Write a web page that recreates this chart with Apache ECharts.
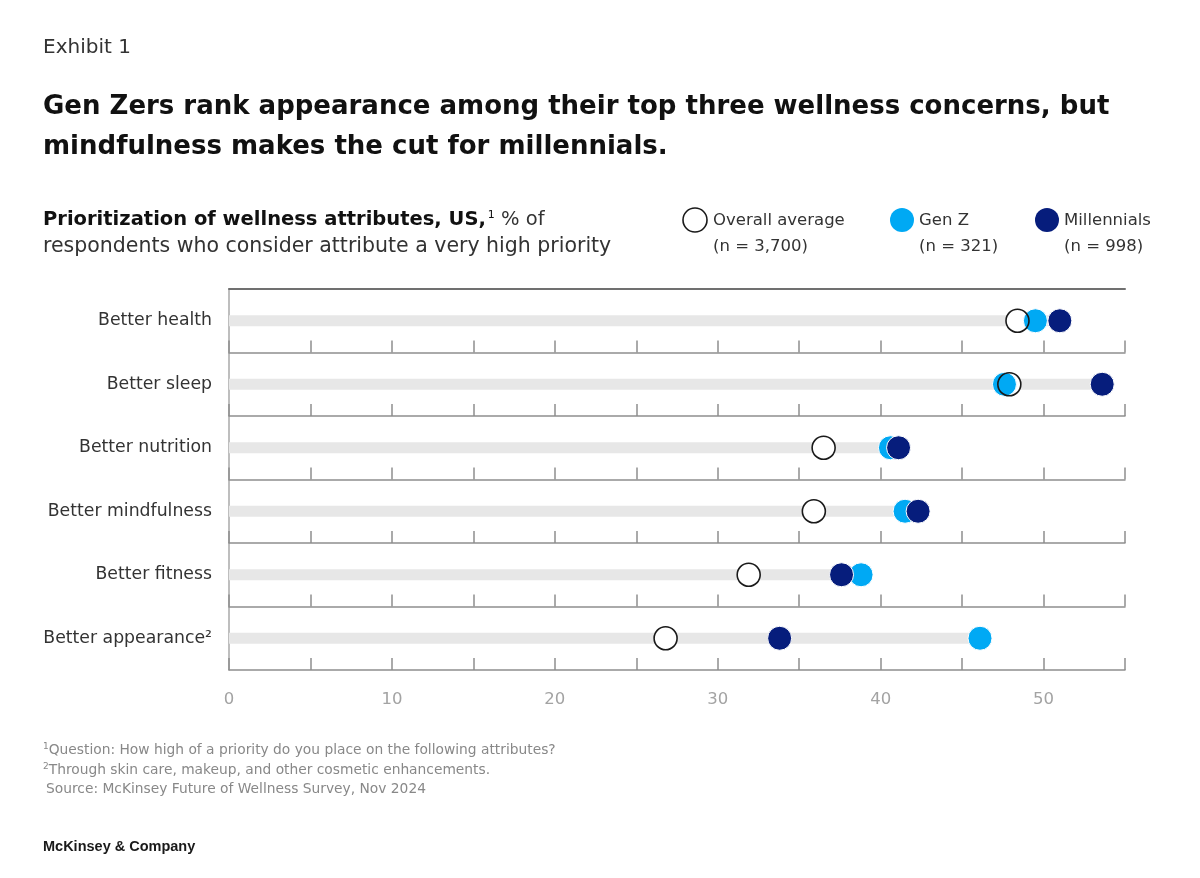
<!DOCTYPE html>
<html>
<head>
<meta charset="utf-8">
<script src="https://cdn.jsdelivr.net/npm/echarts@6/dist/echarts.min.js"></script>
<style>
html,body{margin:0;padding:0;background:#fff;}
#chart{width:1200px;height:878px;}
</style>
</head>
<body>
<div id="chart"></div>
<script>
// ---- data ----
var categories = ['Better health', 'Better sleep', 'Better nutrition', 'Better mindfulness', 'Better fitness', 'Better appearance²'];
var overallAverage = [48.4, 47.9, 36.5, 35.9, 31.9, 26.8];
var genZ = [49.5, 47.6, 40.6, 41.5, 38.8, 46.1];
var millennials = [51.0, 53.6, 41.1, 42.3, 37.6, 33.8];
var xTicks = [0, 10, 20, 30, 40, 50];

var FONT = '"DejaVu Sans", sans-serif';
var FONT2 = '"Liberation Sans", Arial, sans-serif';
var C_GENZ = '#00a9f4';
var C_MIL = '#061d7c';
var chart = echarts.init(document.getElementById('chart'));

var left = 229, right = 75, top0 = 289, rowH = 63.5;
var grids = [], xAxes = [], yAxes = [], series = [];
var sym = 24;

for (var i = 0; i < categories.length; i++) {
  var last = i === categories.length - 1;
  grids.push({left: left, right: right, top: top0 + i * rowH, height: rowH});
  xAxes.push({
    type: 'value', gridIndex: i, min: 0, max: 55, interval: 5,
    axisLine: {show: true, lineStyle: {color: '#8f8f8f', width: 1.5}},
    axisTick: {show: true, inside: true, length: 12, lineStyle: {color: '#8f8f8f', width: 1.5}},
    splitLine: {show: false},
    axisLabel: {
      show: last, margin: 21, color: '#a3a3a3', fontSize: 16.5, fontFamily: FONT,
      formatter: function (v) { return xTicks.indexOf(v) >= 0 ? String(v) : ''; }
    }
  });
  yAxes.push({
    type: 'category', gridIndex: i, data: [categories[i]],
    axisLine: {show: true, lineStyle: {color: '#a8a8a8', width: 1.5}},
    axisTick: {show: false},
    axisLabel: {margin: 17, color: '#333', fontSize: 17.3, fontFamily: FONT}
  });
  var cat = categories[i];
  var mx = Math.max(overallAverage[i], genZ[i], millennials[i]);
  series.push({
    type: 'bar', xAxisIndex: i, yAxisIndex: i, barWidth: 11, silent: true,
    itemStyle: {color: '#e7e7e7'}, data: [[mx, cat]], z: 1
  });
  series.push({
    name: 'Overall average', type: 'scatter', xAxisIndex: i, yAxisIndex: i,
    symbol: 'circle', symbolSize: sym, z: 2,
    itemStyle: {color: '#ffffff', borderWidth: 0, opacity: 1}, data: [[overallAverage[i], cat]]
  });
  series.push({
    name: 'Gen Z', type: 'scatter', xAxisIndex: i, yAxisIndex: i,
    symbol: 'circle', symbolSize: sym, z: 3,
    itemStyle: {color: C_GENZ, borderColor: '#fff', borderWidth: 1, opacity: 1}, data: [[genZ[i], cat]]
  });
  series.push({
    name: 'Millennials', type: 'scatter', xAxisIndex: i, yAxisIndex: i,
    symbol: 'circle', symbolSize: sym, z: 4,
    itemStyle: {color: C_MIL, borderColor: '#fff', borderWidth: 1, opacity: 1}, data: [[millennials[i], cat]]
  });
  series.push({
    name: 'Overall average', type: 'scatter', xAxisIndex: i, yAxisIndex: i,
    symbol: 'circle', symbolSize: sym - 1, z: 5,
    itemStyle: {color: 'rgba(0,0,0,0)', borderColor: '#1a1a1a', borderWidth: 1.6, opacity: 1}, data: [[overallAverage[i], cat]]
  });
}
// top border line of plot
xAxes.push({
  type: 'value', gridIndex: 0, position: 'top', min: 0, max: 55,
  axisLine: {show: true, lineStyle: {color: '#707070', width: 2}},
  axisTick: {show: false}, axisLabel: {show: false}, splitLine: {show: false}
});

var txt = function (x, y, text, size, color, weight, font) {
  return {type: 'text', style: {text: text, x: x, y: y, fill: color, fontSize: size, fontFamily: font || FONT, fontWeight: weight || 'normal', textVerticalAlign: 'middle'}};
};

var graphic = [
  txt(43, 48, 'Exhibit 1', 20, '#333'),
  txt(43, 107, 'Gen Zers rank appearance among their top three wellness concerns, but', 26, '#111', 'bold'),
  txt(43, 147, 'mindfulness makes the cut for millennials.', 26, '#111', 'bold'),
  {type: 'text', style: {
    x: 43, y: 220, textVerticalAlign: 'middle', fontFamily: FONT,
    text: '{b|Prioritization of wellness attributes, US,}{s|1}{n| % of}',
    rich: {
      b: {fontSize: 19.5, fontWeight: 'bold', fill: '#111', fontFamily: FONT},
      s: {fontSize: 11, fill: '#111', fontFamily: FONT, padding: [0, 0, 10, 2]},
      n: {fontSize: 19.5, fill: '#333', fontFamily: FONT}
    }
  }},
  txt(43, 247, 'respondents who consider attribute a very high priority', 20.5, '#333'),
  // legend
  {type: 'circle', shape: {cx: 695, cy: 220, r: 12}, style: {fill: '#fff', stroke: '#1a1a1a', lineWidth: 1.6}},
  txt(713, 221, 'Overall average', 16.5, '#333'),
  txt(713, 247, '(n = 3,700)', 16.5, '#333'),
  {type: 'circle', shape: {cx: 902, cy: 220, r: 12}, style: {fill: C_GENZ}},
  txt(919, 221, 'Gen Z', 16.5, '#333'),
  txt(919, 247, '(n = 321)', 16.5, '#333'),
  {type: 'circle', shape: {cx: 1047, cy: 220, r: 12}, style: {fill: C_MIL}},
  txt(1064, 221, 'Millennials', 16.5, '#333'),
  txt(1064, 247, '(n = 998)', 16.5, '#333'),
  // footnotes
  {type: 'text', style: {
    x: 43, y: 750, textVerticalAlign: 'middle', fontFamily: FONT,
    text: '{s|1}{n|Question: How high of a priority do you place on the following attributes?}',
    rich: {s: {fontSize: 9, fill: '#888', fontFamily: FONT, padding: [0, 0, 7, 0]}, n: {fontSize: 13.8, fill: '#888', fontFamily: FONT}}
  }},
  {type: 'text', style: {
    x: 43, y: 770, textVerticalAlign: 'middle', fontFamily: FONT,
    text: '{s|2}{n|Through skin care, makeup, and other cosmetic enhancements.}',
    rich: {s: {fontSize: 9, fill: '#888', fontFamily: FONT, padding: [0, 0, 7, 0]}, n: {fontSize: 13.8, fill: '#888', fontFamily: FONT}}
  }},
  txt(46, 789, 'Source: McKinsey Future of Wellness Survey, Nov 2024', 13.8, '#888'),
  txt(43, 847, 'McKinsey & Company', 14.5, '#1a1a1a', 'bold', FONT2)
];

chart.setOption({
  animation: false,
  grid: grids, xAxis: xAxes, yAxis: yAxes, series: series, graphic: graphic
});
</script>
</body>
</html>
